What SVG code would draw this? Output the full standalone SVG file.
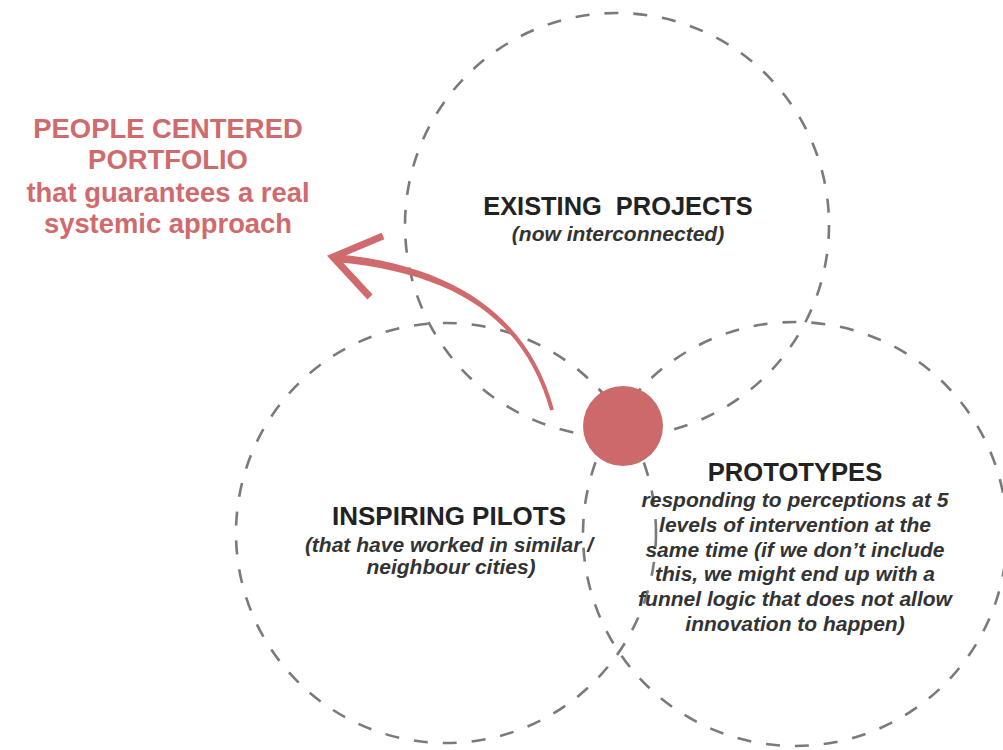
<svg xmlns="http://www.w3.org/2000/svg" width="1003" height="750" viewBox="0 0 1003 750">
<style>
.ring{fill:none;stroke:#7a7a7a;stroke-width:2.6;stroke-dasharray:14 15;stroke-linecap:butt}
.title{font-family:"Liberation Sans",Arial,sans-serif;font-weight:bold;fill:#222;text-anchor:middle}
.sub{font-family:"Liberation Sans",Arial,sans-serif;font-weight:bold;font-style:italic;fill:#333;text-anchor:middle;font-size:21px}
.red{font-family:"Liberation Sans",Arial,sans-serif;font-weight:bold;fill:#d06a6d;text-anchor:middle;font-size:27.4px}
</style>
<rect width="1003" height="750" fill="#fff"/>
<g id="portfolio-label">
<text class="red" x="168" y="138">PEOPLE CENTERED</text>
<text class="red" x="168" y="169">PORTFOLIO</text>
<text class="red" x="168" y="202">that guarantees a real</text>
<text class="red" x="168" y="233">systemic approach</text>
</g>
<g id="existing-projects">
<circle class="ring" cx="617" cy="225" r="212"/>
<text class="title" x="618" y="215" font-size="25.4" xml:space="preserve">EXISTING  PROJECTS</text>
<text class="sub" x="618" y="241">(now interconnected)</text>
</g>
<g id="inspiring-pilots">
<circle class="ring" cx="446" cy="533" r="210"/>
<text class="title" x="449" y="525" font-size="26">INSPIRING PILOTS</text>
<text class="sub" x="449" y="552">(that have worked in similar /</text>
<text class="sub" x="451" y="574">neighbour cities)</text>
</g>
<g id="prototypes">
<circle class="ring" cx="795" cy="534" r="212"/>
<text class="title" x="795" y="481" font-size="25.6">PROTOTYPES</text>
<text class="sub" x="795" y="507">responding to perceptions at 5</text>
<text class="sub" x="795" y="532">levels of intervention at the</text>
<text class="sub" x="795" y="557">same time (if we don’t include</text>
<text class="sub" x="795" y="581">this, we might end up with a</text>
<text class="sub" x="795" y="606">funnel logic that does not allow</text>
<text class="sub" x="795" y="631">innovation to happen)</text>
</g>
<g id="connectors">
<path d="M553.9,409.5 C532.4,329.3 470.3,266.5 335.4,254 L334.6,262 C469.7,273.5 527.6,330.7 550.1,410.5 Z" fill="#d06a6d"/>
<polyline points="383,236 333,257 370,297" fill="none" stroke="#d06a6d" stroke-width="7" stroke-linecap="butt" stroke-linejoin="miter"/>
</g>
<g id="center-dot">
<circle cx="623" cy="426" r="40" fill="#cc6a6b"/>
</g>
</svg>
